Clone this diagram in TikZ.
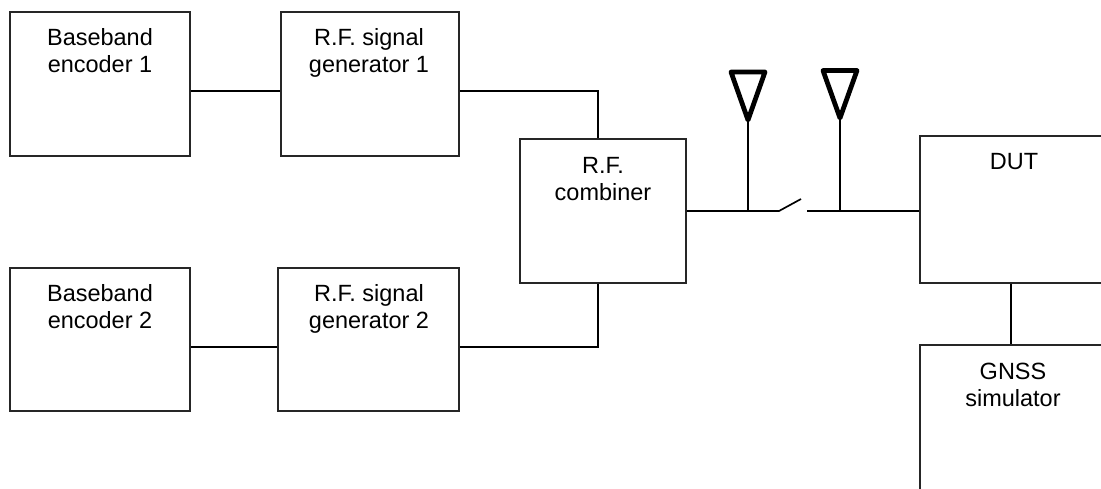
\documentclass[tikz,border=0pt]{standalone}
\usepackage{fontspec}
\setmainfont{Liberation Sans}
\usetikzlibrary{calc}

\tikzset{
 unit/.style={draw=black!85, line width=1.2pt, inner sep=0},
 unitname/.style={align=center, anchor=base, font=\fontsize{16.7}{19.2}\selectfont, inner sep=0},
 wire/.style={black, line width=1.2pt},
 aerial/.style={black, line width=3.4pt, line join=round}
}

\begin{document}
\begin{tikzpicture}[x=.025cm, y=-.025cm]
\useasboundingbox (0,0) rectangle (1101,488);
\clip (0,0) rectangle (1101,488);
% boxes, the two on the right run off the page
\foreach \boxname/\xa/\ya/\xb/\yb in {bba/10/12/190/156, rfa/281/12/459/156, comb/520/139/686/283,
 bbb/10/268/190/411, rfb/278/268/459/411, dut/920/136/1106/283, gnss/920/345/1106/510} {
 \node[unit, minimum width=(\xb-\xa)*.025cm, minimum height=(\yb-\ya)*.025cm] (\boxname) at ({(\xa+\xb)/2},{(\ya+\yb)/2}) {};
}
% labels
\node[unitname] (bbaname) at (100,72) {Baseband\\encoder 1};
\node[unitname] (rfaname) at (369,72) {R.F. signal\\generator 1};
\node[unitname] (combname) at (603,200) {R.F.\\combiner};
\node[unitname] (bbbname) at (100,328) {Baseband\\encoder 2};
\node[unitname] (rfbname) at (369,328) {R.F. signal\\generator 2};
\node[unitname] (dutname) at (1014,169) {DUT};
\node[unitname] (gnssname) at (1013,406) {GNSS\\simulator};
% wires
\coordinate (upper) at (0,91);
\coordinate (lower) at (0,347);
\coordinate (bus) at (0,211);
\coordinate (drop) at (598,0);
\draw[wire] (bba.east |- upper) -- (rfa.west |- upper);
\draw[wire] (bbb.east |- lower) -- (rfb.west |- lower);
\draw[wire] (rfa.east |- upper) -- (drop |- upper) -- (drop |- comb.north);
\draw[wire] (rfb.east |- lower) -- (drop |- lower) -- (drop |- comb.south);
% switch
\coordinate (hinge) at (779,211);
\coordinate (blade) at (801,199);
\coordinate (contact) at (807,211);
\draw[wire] (comb.east |- bus) -- (hinge) -- (blade);
\draw[wire] (contact) -- (dut.west |- bus);
\draw[wire] (dut.south -| 1011,0) -- (gnss.north -| 1011,0);
% aerials
\foreach \aeriname/\x/\top/\tip in {rx/748/72/120, tx/840/70.5/118} {
 \coordinate (\aeriname) at (\x,\tip);
 \draw[aerial] (\x-17,\top) -- (\x+17,\top) -- (\aeriname) -- cycle;
 \draw[wire] (\aeriname) -- (\aeriname |- bus);
}
\end{tikzpicture}
\end{document}
